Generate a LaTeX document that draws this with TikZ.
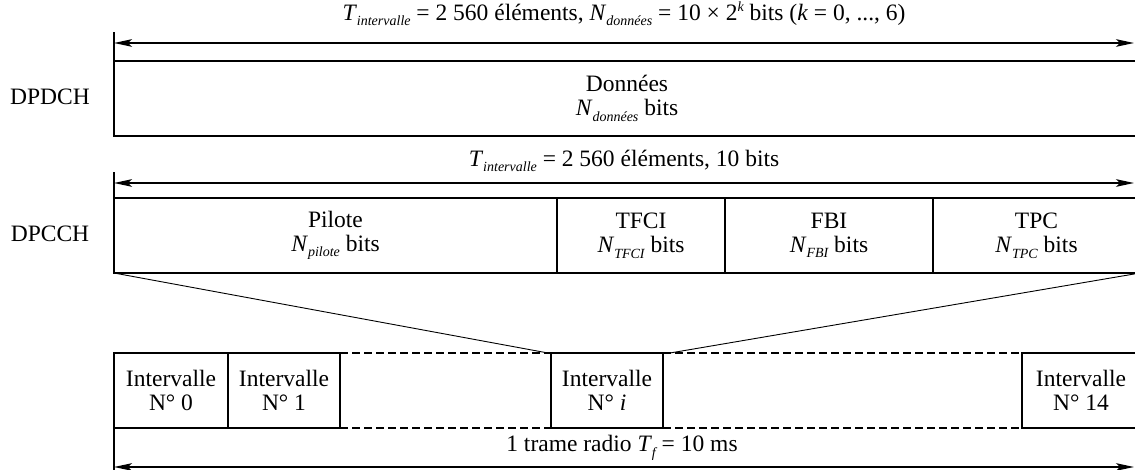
\documentclass[tikz,border=0pt]{standalone}
\usepackage{fontspec}
\setmainfont{Liberation Serif}
\usetikzlibrary{arrows.meta}
\newcommand{\lowtxt}[1]{\raisebox{-2.8pt}{\fontsize{7}{7}\selectfont\itshape #1}}
\newcommand{\uptxt}[1]{\raisebox{4.2pt}{\fontsize{7}{7}\selectfont\itshape #1}}

\begin{document}
\begin{tikzpicture}[x=0.5pt,y=-0.5pt,font=\fontsize{11.75}{12}\selectfont,
    field/.style={draw,line width=0.85pt,minimum height=37.5pt,inner sep=0pt,outer sep=0pt,align=center,anchor=north west},
    rule/.style={line width=0.85pt},
    span/.style={{Stealth[length=9pt,width=3.8pt,inset=2pt]}-{Stealth[length=9pt,width=3.8pt,inset=2pt]},line width=0.8pt},
    zoomline/.style={line width=0.45pt},
    gap/.style={dash pattern=on 3.8pt off 2.2pt,line width=1.1pt}]
  \useasboundingbox (0,0) rectangle (1135,470);

  % DPDCH
  \node[field,minimum width=513pt] (donnees) at (114,61) {Données\\\textit{N}\lowtxt{données} bits};
  \node (dpdch) at (50,97) {DPDCH};
  \coordinate (dtick) at (114,32);
  \coordinate (dl) at (114,43);
  \coordinate (dr) at (1134,43);
  \draw[rule] (donnees.north west) -- (dtick);
  \draw[span] (dl) -- (dr);
  \node (dlabel) at (624,14) {\textit{T}\lowtxt{intervalle} = 2 560 éléments, \textit{N}\lowtxt{données} = 10 × 2\uptxt{k} bits (\textit{k} = 0, ..., 6)};

  % DPCCH
  \node[field,minimum width=221.5pt] (pilote) at (114,198) {Pilote\\\textit{N}\lowtxt{pilote} bits};
  \node[field,minimum width=84pt] (tfci) at (pilote.north east) {TFCI\\\textit{N}\lowtxt{TFCI} bits};
  \node[field,minimum width=104pt] (fbi) at (tfci.north east) {FBI\\\textit{N}\lowtxt{FBI} bits};
  \node[field,minimum width=103.5pt] (tpc) at (fbi.north east) {TPC\\\textit{N}\lowtxt{TPC} bits};
  \node (dpcch) at (50,234) {DPCCH};
  \coordinate (ctick) at (114,172);
  \coordinate (cl) at (114,183);
  \coordinate (cr) at (1134,183);
  \draw[rule] (pilote.north west) -- (ctick);
  \draw[span] (cl) -- (cr);
  \node (clabel) at (624,161) {\textit{T}\lowtxt{intervalle} = 2 560 éléments, 10 bits};

  % trame radio
  \node[field,minimum width=57pt] (slot0) at (114,353) {Intervalle\\N° 0};
  \node[field,minimum width=56pt] (slot1) at (slot0.north east) {Intervalle\\N° 1};
  \node[field,minimum width=56pt] (sloti) at (551,353) {Intervalle\\N° \textit{i}};
  \node[field,minimum width=59pt] (slotn) at (1022,353) {Intervalle\\N° 14};
  \draw[gap] (slot1.north east) -- (sloti.north west);
  \draw[gap] (slot1.south east) -- (sloti.south west);
  \draw[gap] (sloti.north east) -- (slotn.north west);
  \draw[gap] (sloti.south east) -- (slotn.south west);
  \coordinate (ftick) at (114,470);
  \coordinate (fl) at (114,467);
  \coordinate (fr) at (1134,467);
  \draw[rule] (slot0.south west) -- (ftick);
  \draw[span] (fl) -- (fr);
  \node (flabel) at (622,448) {1 trame radio \textit{T}\lowtxt{f} = 10 ms};

  % zoom
  \coordinate (zl) at (548,353);
  \coordinate (zr) at (670,353);
  \draw[zoomline] (pilote.south west) -- (zl);
  \draw[zoomline] (tpc.south east) -- (zr);
\end{tikzpicture}
\end{document}
